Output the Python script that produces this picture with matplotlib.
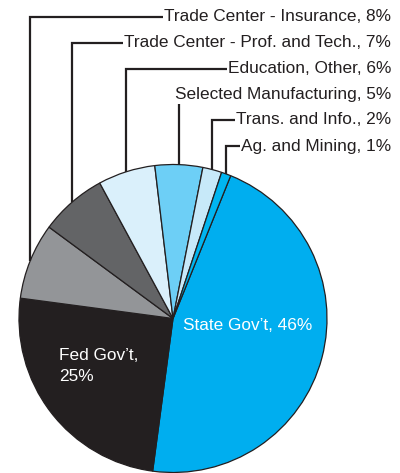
import numpy as np
import matplotlib
matplotlib.use("Agg")
from matplotlib import pyplot as plt

# slices, clockwise from the top-right
categories = ["State Gov\u2019t", "Fed Gov\u2019t", "Trade Center - Insurance",
              "Trade Center - Prof. and Tech.", "Education, Other",
              "Selected Manufacturing", "Trans. and Info.", "Ag. and Mining"]
shares = [46, 25, 8, 7, 6, 5, 2, 1]
colors = ["#00aeef", "#231f20", "#939598", "#636466",
          "#daf0fb", "#6dcff6", "#c7e9f9", "#00b5f0"]

# outside labels (index into categories), top to bottom
outside = [2, 3, 4, 5, 6, 7]
label_rows = [456, 430, 404, 378, 353, 327]

plt.rcParams['font.family'] = ['Liberation Sans', 'DejaVu Sans']
fs = 12.4

fig = plt.figure(figsize=(4.0, 4.73), dpi=100)
ax = fig.add_axes([0, 0, 1, 1])

cx, cy, r = 173, 154.5, 154
wedges, _ = ax.pie(shares, colors=colors, startangle=68, counterclock=False,
                   center=(cx, cy), radius=r, frame=True,
                   wedgeprops=dict(edgecolor='#231f20', linewidth=0.9))
ax.set_xlim(0, 400)
ax.set_ylim(0, 473)
ax.set_aspect('equal')
ax.axis('off')

text_x = 391
for idx, ly in zip(outside, label_rows):
    w = wedges[idx]
    mid = np.deg2rad((w.theta1 + w.theta2) / 2)
    px = cx + r * np.cos(mid)
    py = cy + r * np.sin(mid)
    label = f"{categories[idx]}, {shares[idx]}%"
    t = ax.text(text_x, ly, label, ha='right', va='center', fontsize=fs,
                color='#231f20')
    fig.canvas.draw()
    bb = t.get_window_extent().transformed(ax.transData.inverted())
    if categories[idx] == "Selected Manufacturing":
        ax.plot([px, px], [py, ly - 9], color='#231f20', lw=1.6,
                solid_capstyle='butt')
    else:
        ax.plot([px, px, bb.x0 - 1], [py, ly, ly], color='#231f20', lw=1.6,
                solid_capstyle='butt', solid_joinstyle='miter')

ax.text(183, 473 - 326, f"{categories[0]}, {shares[0]}%", ha='left',
        va='center', fontsize=fs, color='white')
ax.text(59, 473 - 366, f"{categories[1]},\n{shares[1]}%", ha='left',
        va='center', fontsize=fs, color='white', linespacing=1.45)

fig.savefig("out.png", dpi=100)
